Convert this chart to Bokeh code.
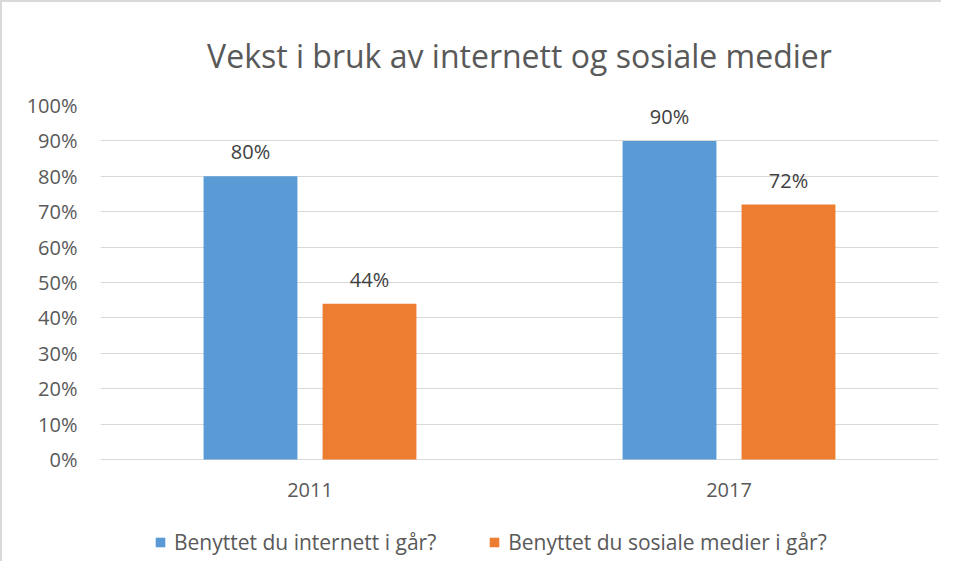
from bokeh.plotting import figure
from bokeh.models import (ColumnDataSource, FactorRange, NumeralTickFormatter, FixedTicker,
                          LabelSet, Legend, LegendItem, Range1d, Title)
from bokeh.core.properties import value
from bokeh.transform import dodge
from bokeh.embed import file_html
from bokeh.resources import INLINE

years = ["2011", "2017"]
internett = [0.80, 0.90]
sosiale = [0.44, 0.72]
series_names = ["Benyttet du internett i går?", "Benyttet du sosiale medier i går?"]
y_ticks = [0.0, 0.1, 0.2, 0.3, 0.4, 0.5, 0.6, 0.7, 0.8, 0.9, 1.0]

FONT = "Open Sans"
BLUE = "#5B9BD5"
ORANGE = "#ED7D31"
GREY_TXT = "#595959"

src = ColumnDataSource(dict(
    year=years,
    internett=internett,
    sosiale=sosiale,
    lab_i=[f"{round(v*100)}%" for v in internett],
    lab_s=[f"{round(v*100)}%" for v in sosiale],
))

# the frame extends below 0 so that category labels and legend sit inside it
p = figure(width=941, height=561, x_range=FactorRange(*years, range_padding=0),
           y_range=Range1d(-0.2825, 1), output_backend="svg", toolbar_location=None,
           x_axis_location=None,
           min_border_left=98, min_border_right=5, min_border_top=101, min_border_bottom=4)
p.styles = {"border-left": "2px solid #d9d9d9", "border-top": "2px solid #d9d9d9",
            "box-sizing": "border-box"}

title = Title(text="Vekst i bruk av internett og sosiale medier", align="center",
              text_font=FONT, text_font_size="32px", text_color=GREY_TXT,
              text_font_style="normal", standoff=58)
p.add_layout(title, "above")

bw = 0.224
off = 0.142
r1 = p.vbar(x=dodge("year", -off, range=p.x_range), top="internett", width=bw,
            source=src, color=BLUE, line_color=None)
r2 = p.vbar(x=dodge("year", off, range=p.x_range), top="sosiale", width=bw,
            source=src, color=ORANGE, line_color=None)

for col, lab, o in [("internett", "lab_i", -off), ("sosiale", "lab_s", off)]:
    ls = LabelSet(x=dodge("year", o, range=p.x_range), y=col, text=lab, source=src,
                  text_align="center", text_baseline="alphabetic", y_offset=17,
                  text_font=value(FONT), text_font_size="20px", text_color="#404040")
    p.add_layout(ls)

# category labels under the 0 line
cat_labels = LabelSet(x="year", y=0, text="year", source=src,
                      text_align="center", text_baseline="middle", y_offset=-31,
                      text_font=value(FONT), text_font_size="20px", text_color=GREY_TXT)
p.add_layout(cat_labels)

p.yaxis.ticker = FixedTicker(ticks=y_ticks)
p.yaxis.formatter = NumeralTickFormatter(format="0%")
p.yaxis.axis_line_color = None
p.yaxis.major_tick_line_color = None
p.yaxis.minor_tick_line_color = None
p.yaxis.major_tick_out = 0
p.yaxis.minor_tick_out = 0
p.yaxis.major_label_text_font = FONT
p.yaxis.major_label_text_font_size = "20px"
p.yaxis.major_label_text_color = GREY_TXT
p.yaxis.major_label_standoff = 23

p.xgrid.grid_line_color = None
p.ygrid.grid_line_color = "#d9d9d9"
p.ygrid.grid_line_width = 1
p.outline_line_color = None

legend = Legend(items=[LegendItem(label=series_names[0], renderers=[r1]),
                       LegendItem(label=series_names[1], renderers=[r2])],
                orientation="horizontal", location=(54, 3),
                glyph_width=12, glyph_height=12, label_standoff=8, spacing=52,
                padding=0, margin=0, border_line_color=None, background_fill_alpha=0,
                label_text_font=FONT, label_text_font_size="21px", label_text_color=GREY_TXT)
p.add_layout(legend, "center")

open("out.html", "w").write(file_html(p, INLINE))
